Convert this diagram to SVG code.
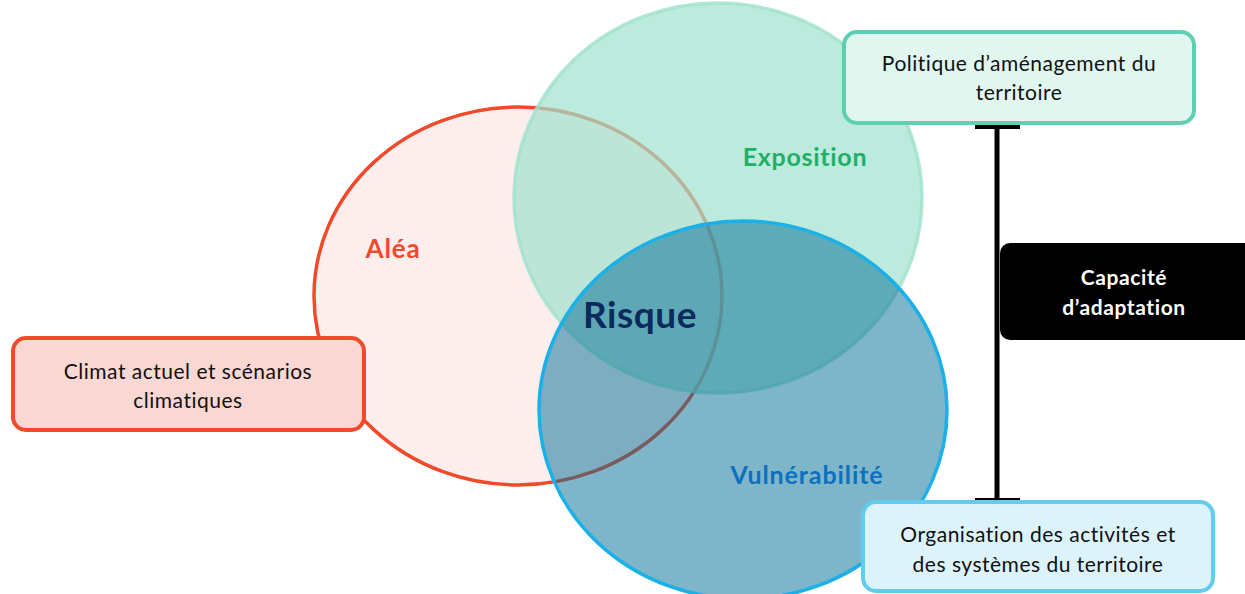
<svg xmlns="http://www.w3.org/2000/svg" width="1245" height="594" viewBox="0 0 1245 594">
<style>
text{font-variant-ligatures:none}
.lbl{font-family:Lato,"Open Sans","Liberation Sans",sans-serif;font-weight:bold;text-anchor:middle}
.bt{font-family:Lato,"Open Sans","Liberation Sans",sans-serif;font-size:21px;letter-spacing:0.5px;fill:#111;text-anchor:middle}
.box{stroke-width:4}
</style>
<rect width="1245" height="594" fill="#ffffff"/>
<g id="alea">
<ellipse cx="518" cy="296" rx="204" ry="189" fill="#FDEEEE" stroke="#F04A2A" stroke-width="3.5"/>
<text class="lbl" x="393" y="258" font-size="26" letter-spacing="0.8" fill="#F04A2A">Aléa</text>
</g>
<g id="exposition">
<ellipse cx="718" cy="198" rx="204" ry="195" fill="rgb(160,225,205)" fill-opacity="0.7" stroke="rgb(160,225,205)" stroke-opacity="0.8" stroke-width="3.5"/>
<text class="lbl" x="805" y="166" font-size="25" letter-spacing="0.7" fill="#1FB068">Exposition</text>
</g>
<g id="vulnerabilite">
<ellipse cx="743" cy="410" rx="204" ry="189" fill="rgb(0,107,147)" fill-opacity="0.5" stroke="#1AB0E8" stroke-width="3.5"/>
<text class="lbl" x="807" y="484" font-size="25" letter-spacing="0.9" fill="#0A70C0">Vulnérabilité</text>
</g>
<g id="risque">
<text class="lbl" x="640" y="328" font-size="37" letter-spacing="0.5" fill="#0B2A5E">Risque</text>
</g>
<g id="connectors">
<line x1="997" y1="127" x2="997" y2="500" stroke="#000" stroke-width="5"/>
<line x1="975" y1="127" x2="1020" y2="127" stroke="#000" stroke-width="4"/>
<line x1="975" y1="500" x2="1020" y2="500" stroke="#000" stroke-width="4"/>
</g>
<g id="politique">
<rect class="box" x="844" y="32" width="350" height="91" rx="13" fill="#E0F6EF" stroke="#5ECFB0"/>
<text class="bt" x="1019" y="71">Politique d’aménagement du</text>
<text class="bt" x="1019" y="100">territoire</text>
</g>
<g id="climat">
<rect class="box" x="13" y="338" width="351" height="92" rx="13" fill="#FAD7D2" stroke="#F04A2A"/>
<text class="bt" x="188" y="379">Climat actuel et scénarios</text>
<text class="bt" x="188" y="408">climatiques</text>
</g>
<g id="organisation">
<rect class="box" x="863" y="502" width="350" height="89" rx="13" fill="#DDF3FB" stroke="#62CCEE"/>
<text class="bt" x="1038" y="542">Organisation des activités et</text>
<text class="bt" x="1038" y="572">des systèmes du territoire</text>
</g>
<g id="capacite">
<rect x="1000" y="243" width="260" height="97" rx="10" fill="#000"/>
<text class="lbl" x="1124" y="285" font-size="21" letter-spacing="0.6" fill="#fff">Capacité</text>
<text class="lbl" x="1124" y="315" font-size="21" letter-spacing="0.6" fill="#fff">d’adaptation</text>
</g>
</svg>
